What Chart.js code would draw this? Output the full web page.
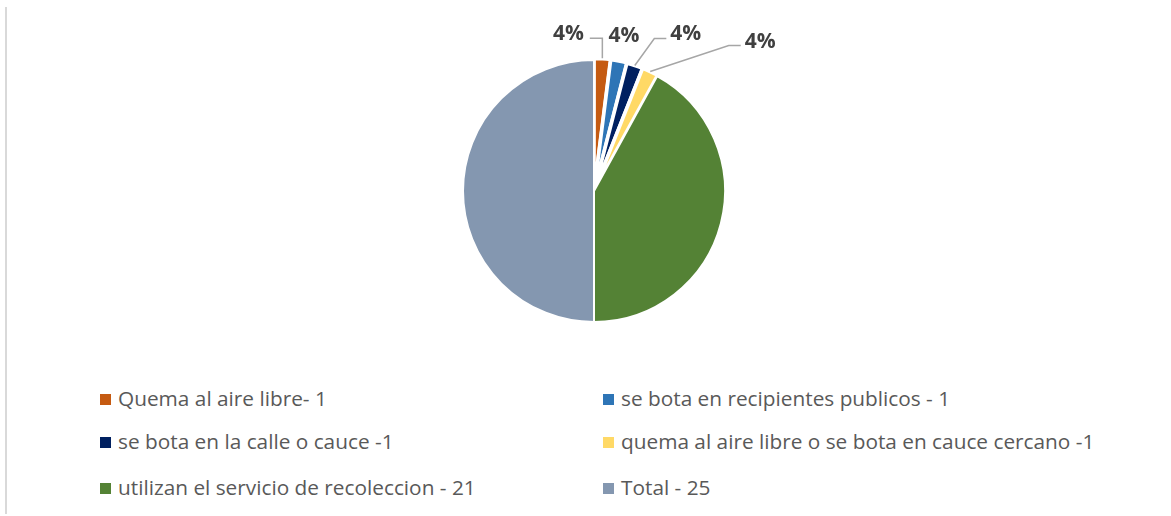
<!DOCTYPE html>
<html>
<head>
<meta charset="utf-8">
<script src="https://cdn.jsdelivr.net/npm/chart.js@4/dist/chart.umd.min.js"></script>
<style>
  html, body { margin: 0; padding: 0; background: #ffffff; }
  #wrap { position: relative; width: 1171px; height: 516px; overflow: hidden; background: #fff; }
  #frame { position: absolute; left: 5px; top: 7px; width: 1.5px; height: 507px; background: #d9d9d9; }
  #cv { position: absolute; left: 0; top: 0; }
  .lg { position: absolute; font-family: "Open Sans", sans-serif; font-size: 20.8px; color: #595959; white-space: nowrap; line-height: 24px; }
  .lg .box { position: absolute; width: 11px; height: 11px; }
  .lg .txt { position: absolute; left: 18px; top: -13px; }
</style>
</head>
<body>
<div id="wrap">
  <div id="frame"></div>
  <canvas id="cv" width="1171" height="382"></canvas>
  <div id="legend"></div>
</div>
<script>
// ---- data ----
const categories = [
  "Quema al aire libre- 1",
  "se bota en recipientes publicos - 1",
  "se bota en la calle o cauce -1",
  "quema al aire libre o se bota en cauce cercano -1",
  "utilizan el servicio de recoleccion - 21",
  "Total - 25"
];
const values = [1, 1, 1, 1, 21, 25];
const dataLabels = ["4%", "4%", "4%", "4%", null, null];
const colors = ["#C55A11", "#2E75B6", "#002060", "#FFD966", "#548235", "#8497B0"];

// ---- styling (not data) ----
const sliceOffsets = [3, 3, 2, 2, 0, 0];
const sliceBorders = [3.5, 3.5, 3.5, 3.5, 2, 2];
// label centre relative to the slice's outer mid-point
const labelShift = [[-34, -24], [5, -24], [51, -31], [110, -30], null, null];
const leaderType = ["right", "none", "left", "left", "none", "none"];

const labelPlugin = {
  id: 'pieLabels',
  afterDatasetsDraw(chart) {
    const ctx = chart.ctx;
    const meta = chart.getDatasetMeta(0);
    ctx.save();
    ctx.font = 'bold 21px "Open Sans", sans-serif';
    ctx.fillStyle = '#404040';
    ctx.textAlign = 'center';
    ctx.textBaseline = 'middle';
    meta.data.forEach((arc, i) => {
      const txt = dataLabels[i];
      if (!txt) return;
      const p = arc.getProps(['x', 'y', 'startAngle', 'endAngle', 'outerRadius'], true);
      const mid = (p.startAngle + p.endAngle) / 2;
      const r = p.outerRadius + (arc.options.offset || 0) - 1;
      const ax = p.x + Math.cos(mid) * r;
      const ay = p.y + Math.sin(mid) * r;
      const lx = ax + labelShift[i][0];
      const ly = ay + labelShift[i][1];
      const w = ctx.measureText(txt).width;
      ctx.strokeStyle = '#a6a6a6';
      ctx.lineWidth = 1.5;
      const yl = ly + 4;
      if (leaderType[i] === 'right') {
        ctx.beginPath();
        ctx.moveTo(ax, ay);
        ctx.lineTo(ax, yl);
        ctx.lineTo(lx + w / 2 + 6, yl);
        ctx.stroke();
      } else if (leaderType[i] === 'left') {
        const x0 = lx - w / 2 - 4;
        ctx.beginPath();
        ctx.moveTo(ax, ay);
        ctx.lineTo(x0 - 12, yl);
        ctx.lineTo(x0, yl);
        ctx.stroke();
      }
      ctx.fillText(txt, lx, ly);
    });
    ctx.restore();
  }
};

new Chart(document.getElementById('cv'), {
  type: 'pie',
  data: {
    labels: categories,
    datasets: [{
      data: values,
      backgroundColor: colors,
      borderColor: '#ffffff',
      borderWidth: sliceBorders,
      offset: sliceOffsets
    }]
  },
  options: {
    responsive: false,
    animation: false,
    events: [],
    radius: 131,
    layout: { padding: { left: 17, right: 0, top: 0, bottom: 0 } },
    plugins: { legend: { display: false }, tooltip: { enabled: false } }
  },
  plugins: [labelPlugin]
});

// ---- HTML legend built from the data arrays ----
const legendCols = [100, 603];
const legendRows = [399, 442, 488];
const lg = document.getElementById('legend');
categories.forEach((c, i) => {
  const col = i % 2, row = Math.floor(i / 2);
  const d = document.createElement('div');
  d.className = 'lg';
  d.style.left = legendCols[col] + 'px';
  d.style.top = legendRows[row] + 'px';
  const b = document.createElement('span');
  b.className = 'box';
  b.style.background = colors[i];
  b.style.left = '0px';
  b.style.top = '-5px';
  const t = document.createElement('span');
  t.className = 'txt';
  t.textContent = c;
  d.appendChild(b); d.appendChild(t);
  lg.appendChild(d);
});
</script>
</body>
</html>
